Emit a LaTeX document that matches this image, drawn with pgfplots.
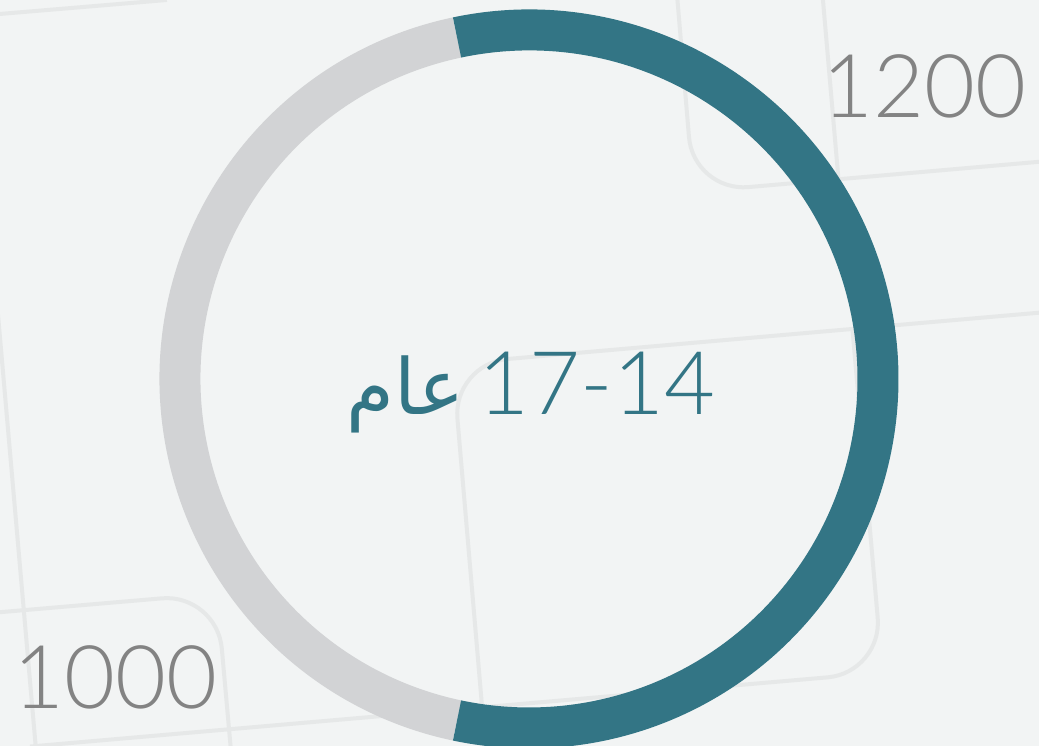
\documentclass[border=0pt]{standalone}
\usepackage{pgfplots}
\pgfplotsset{compat=1.18}
\usepackage{pgfplotstable}
\usepackage{fontspec}
\setmainfont{Lato Light}
\newfontfamily\arabicfont[Script=Arabic]{DejaVu Sans}
\TeXXeTstate=1

\definecolor{bg}{HTML}{F2F4F4}
\definecolor{tile}{HTML}{E6E8E8}
\definecolor{ringteal}{HTML}{337585}
\definecolor{ringgray}{HTML}{D2D3D5}
\definecolor{lbl}{HTML}{838383}

% ring slices: centre (x,y), start and stop angle
\pgfplotstableread{
x y value start stop
529 367 1000 101.9 258.1
}\graytab
\pgfplotstableread{
x y value start stop
529 367 1200 101.9 -101.9
}\tealtab

\pgfdeclareplotmark{empty}{}

\pgfplotsset{
  ring/.style={
    scatter, only marks, mark=empty,
    visualization depends on={\thisrow{start}\as\angA},
    visualization depends on={\thisrow{stop}\as\angB},
    scatter/@pre marker code/.code={
      \draw[#1, line width=0.41cm] (\angA:3.49cm) arc[start angle=\angA, end angle=\angB, radius=3.49cm];
    },
    scatter/@post marker code/.code={},
  },
}

\begin{document}
\begin{tikzpicture}
\useasboundingbox (0,0) rectangle (10.39cm,7.46cm);
\clip (0,0) rectangle (10.39cm,7.46cm);
\fill[bg] (0,0) rectangle (10.39cm,7.46cm);

% tiled background, in picture pixels (y downwards)
\begin{scope}[yshift=7.46cm, x=0.01cm, y=-0.01cm, tile, line width=0.04cm]
  \draw (0,14) -- (167,0);
  \draw[rounded corners=0.55cm] (677,-10) -- (694,192) -- (1050,161);
  \draw (823,-5) -- (839,180);
  \draw[rounded corners=0.55cm] (1050,312) -- (453,364) -- (486,750);
  \draw[rounded corners=0.55cm] (853,330) -- (883,673) -- (30,747);
  \draw (-2,315) -- (36,750);
  \draw[rounded corners=0.55cm] (-5,613) -- (217,594) -- (231,750);
\end{scope}

\begin{axis}[
  at={(0,0)}, anchor=south west,
  width=10.39cm, height=7.46cm, scale only axis,
  hide axis, clip=false,
  xmin=0, xmax=1039, ymin=0, ymax=746,
]
\addplot[ring=ringgray] table[x=x, y=y] {\graytab};
\addplot[ring=ringteal] table[x=x, y=y] {\tealtab};

\node[lbl, inner sep=0pt, anchor=base west, font=\fontsize{25}{30}\selectfont] at (axis cs:822,628) {1200};
\node[lbl, inner sep=0pt, anchor=base west, font=\fontsize{25}{30}\selectfont] at (axis cs:13,37) {1000};
\node[ringteal, inner sep=0pt, anchor=base, font=\fontsize{25}{30}\selectfont] at (axis cs:531,331)
  {{\arabicfont\fontsize{22}{26}\selectfont\beginR عام\endR}\,17-14};
\end{axis}
\end{tikzpicture}
\end{document}
